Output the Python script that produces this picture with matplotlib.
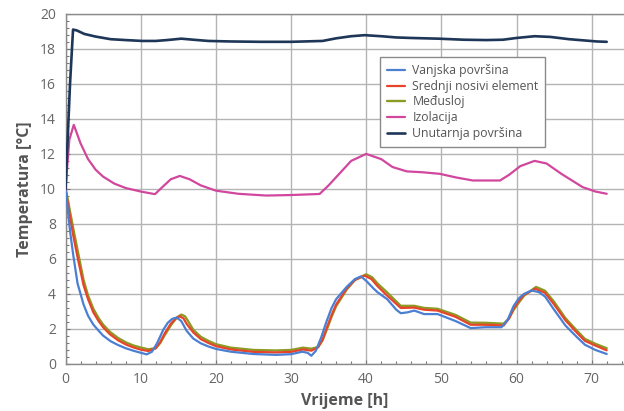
import matplotlib
matplotlib.use("Agg")
import matplotlib.pyplot as plt
from matplotlib.ticker import MultipleLocator

# ---------------- data ----------------
t_blue = [0, 0.3, 0.6, 1.0, 1.6, 2.4, 3.0, 3.7, 4.4, 5.0, 6.0, 7.0, 8.0, 9.0, 10.0, 10.8, 11.5, 12.2,
          13.0, 13.6, 14.2, 14.8, 15.4, 16.1, 17.0, 18.0, 19.0, 20.0, 22.0, 25.0, 28.0, 30.0,
          31.5, 32.2, 32.7, 33.3, 34.0, 34.7, 35.4, 36.0, 37.4, 38.5, 39.3, 40.0, 41.0, 41.5,
          42.8, 44.0, 44.6, 45.5, 46.4, 47.7, 49.5, 51.9, 53.9, 55.9, 58.0, 58.8, 59.6, 60.3,
          61.0, 62.0, 63.0, 63.8, 65.0, 66.5, 68.0, 69.1, 70.5, 72.0]
T_blue = [10.0, 8.8, 7.6, 6.3, 4.6, 3.4, 2.75, 2.25, 1.9, 1.62, 1.3, 1.08, 0.9, 0.76, 0.64, 0.55, 0.7, 1.2,
          1.95, 2.35, 2.58, 2.65, 2.45, 1.9, 1.45, 1.18, 1.0, 0.86, 0.7, 0.57, 0.52, 0.56,
          0.7, 0.64, 0.47, 0.75, 1.5, 2.4, 3.2, 3.7, 4.4, 4.85, 5.0, 4.75, 4.3, 4.1,
          3.7, 3.1, 2.9, 2.95, 3.05, 2.85, 2.85, 2.45, 2.05, 2.1, 2.1, 2.5, 3.3, 3.75,
          4.0, 4.2, 4.1, 3.85, 3.1, 2.2, 1.55, 1.1, 0.8, 0.57]

t_red = [0, 0.3, 0.6, 1.0, 1.6, 2.4, 3.0, 3.7, 4.4, 5.0, 5.9, 7.0, 8.1, 9.0, 10.0, 11.0, 12.0,
         12.6, 13.2, 14.0, 14.7, 15.2, 15.7, 16.1, 17.0, 18.0, 19.0, 20.0, 22.0, 25.0, 28.0, 30.0,
         31.6, 32.7, 33.6, 34.2, 34.7, 35.4, 36.0, 37.4, 38.5, 39.8, 40.7, 41.5, 42.8, 44.6, 46.4,
         47.7, 49.5, 51.9, 53.9, 55.9, 58.3, 59.0, 59.6, 60.3, 61.0, 62.5, 63.8, 65.0, 66.5,
         68.0, 69.1, 70.5, 72.0]
T_red = [10.0, 9.2, 8.4, 7.4, 6.1, 4.5, 3.7, 2.95, 2.45, 2.1, 1.7, 1.35, 1.1, 0.95, 0.82, 0.74, 0.9,
         1.25, 1.75, 2.3, 2.62, 2.72, 2.6, 2.3, 1.8, 1.42, 1.2, 1.02, 0.83, 0.69, 0.66, 0.69,
         0.83, 0.76, 0.95, 1.4, 2.0, 2.8, 3.4, 4.3, 4.8, 5.05, 4.85, 4.45, 3.9, 3.2, 3.22,
         3.1, 3.05, 2.69, 2.24, 2.24, 2.2, 2.6, 3.15, 3.6, 3.95, 4.3, 4.06, 3.4, 2.5,
         1.8, 1.32, 1.05, 0.78]

t_green = [0, 0.3, 0.6, 1.0, 1.6, 2.4, 3.0, 3.7, 4.4, 5.0, 5.9, 7.0, 8.1, 9.0, 10.0, 11.0, 12.0,
           12.6, 13.2, 14.0, 14.8, 15.4, 15.9, 16.3, 17.0, 18.0, 19.0, 20.0, 22.0, 25.0, 28.0, 30.0,
           31.6, 32.7, 33.6, 34.2, 34.7, 35.4, 36.0, 37.4, 38.5, 40.0, 40.8, 41.5, 42.8, 44.6, 46.4,
           47.7, 49.5, 51.9, 53.9, 55.9, 58.3, 59.0, 59.6, 60.3, 61.0, 62.6, 63.8, 65.0, 66.5,
           68.0, 69.1, 70.5, 72.0]
T_green = [10.0, 9.4, 8.7, 7.8, 6.5, 4.8, 3.9, 3.15, 2.62, 2.25, 1.84, 1.48, 1.22, 1.06, 0.94, 0.84, 0.9,
           1.2, 1.65, 2.2, 2.65, 2.82, 2.72, 2.45, 1.95, 1.55, 1.32, 1.13, 0.93, 0.8, 0.77, 0.8,
           0.93, 0.87, 0.97, 1.35, 1.9, 2.7, 3.3, 4.25, 4.8, 5.12, 4.95, 4.6, 4.08, 3.32, 3.32,
           3.2, 3.15, 2.8, 2.36, 2.35, 2.3, 2.6, 3.08, 3.5, 3.9, 4.4, 4.18, 3.55, 2.62,
           1.92, 1.43, 1.15, 0.9]

t_iso = [0, 0.5, 1.1, 2.0, 3.0, 4.0, 5.0, 6.5, 8.0, 10.0, 11.9, 13.0, 14.0, 15.2, 16.5, 18.0,
         20.0, 23.0, 26.7, 30.0, 33.8, 35.0, 36.5, 38.0, 40.0, 42.0, 43.5, 45.4, 47.5, 49.8,
         52.0, 54.2, 57.8, 59.0, 60.5, 62.4, 64.0, 66.0, 68.8, 70.5, 72.0]
T_iso = [10.0, 12.8, 13.66, 12.6, 11.7, 11.1, 10.7, 10.3, 10.05, 9.85, 9.7, 10.15, 10.55, 10.74, 10.55, 10.2,
         9.9, 9.72, 9.62, 9.65, 9.71, 10.2, 10.9, 11.6, 12.0, 11.7, 11.25, 11.0, 10.95, 10.86,
         10.65, 10.48, 10.48, 10.8, 11.3, 11.6, 11.45, 10.85, 10.1, 9.85, 9.72]

t_inner = [0, 0.6, 1.0, 1.5, 2.5, 4.0, 6.0, 8.0, 10.2, 12.0, 13.5, 15.4, 17.0, 19.0, 22.0, 26.0,
           30.0, 34.2, 36.0, 38.0, 39.8, 42.0, 44.0, 46.0, 49.6, 53.0, 56.0, 58.2, 60.0, 62.4,
           64.5, 67.0, 70.7, 72.0]
T_inner = [10.0, 16.0, 19.1, 19.05, 18.85, 18.7, 18.55, 18.5, 18.45, 18.45, 18.5, 18.58, 18.52, 18.45, 18.42, 18.4,
           18.4, 18.45, 18.6, 18.72, 18.78, 18.72, 18.65, 18.62, 18.58, 18.52, 18.5, 18.52, 18.62, 18.72,
           18.68, 18.55, 18.42, 18.4]

labels = ["Vanjska površina", "Srednji nosivi element", "Međusloj", "Izolacija", "Unutarnja površina"]
colors = ["#4b7fd2", "#e8432b", "#8c9b24", "#d1479d", "#1e3658"]

x_label = "Vrijeme [h]"
y_label = "Temperatura [°C]"

# ---------------- plot ----------------
plt.rcParams['font.family'] = ['Open Sans', 'DejaVu Sans']
fig = plt.figure(figsize=(6.24, 4.11), dpi=100)
ax = fig.add_axes([0.105, 0.1144, 0.895, 0.852])

series = [(t_blue, T_blue), (t_red, T_red), (t_green, T_green), (t_iso, T_iso), (t_inner, T_inner)]
zorders = [3.2, 3.1, 3.0, 3.3, 3.4]
widths = [1.6, 1.6, 1.7, 1.6, 1.9]
for (tt, TT), lab, col, z, w in zip(series, labels, colors, zorders, widths):
    ax.plot(tt, TT, color=col, lw=w, label=lab, solid_joinstyle='round',
            solid_capstyle='round', zorder=z)

ax.set_xlim(0, 74.3)
ax.set_ylim(0, 20)
ax.xaxis.set_major_locator(MultipleLocator(10))
ax.xaxis.set_minor_locator(MultipleLocator(2))
ax.yaxis.set_major_locator(MultipleLocator(2))
ax.yaxis.set_minor_locator(MultipleLocator(0.4))
ax.grid(True, which='major', color='#b4b4b4', lw=1.0)
ax.set_axisbelow(True)
ax.tick_params(which='both', direction='in', colors='#777777', labelcolor='#666666', labelsize=10)
ax.tick_params(which='major', length=3, width=0.8)
ax.tick_params(which='minor', length=2.5, width=0.8)
ax.tick_params(axis='x', pad=6)
ax.tick_params(axis='y', pad=7)
for s in ax.spines.values():
    s.set_color('#8a8a8a')
    s.set_linewidth(1.0)
ax.spines['right'].set_visible(False)

ax.set_xlabel(x_label, fontsize=11.5, color='#555555', fontweight='bold', labelpad=4)
ax.set_ylabel(y_label, fontsize=11.5, color='#555555', fontweight='bold', labelpad=5)

leg = ax.legend(loc='upper left', bbox_to_anchor=(0.552, 0.893), fontsize=8.8, frameon=True,
                fancybox=False, framealpha=1, edgecolor='#8a8a8a', handlelength=1.5,
                handletextpad=0.6, borderpad=0.55, labelspacing=0.22)
leg.get_frame().set_linewidth(1.0)
for txt in leg.get_texts():
    txt.set_color('#555555')

fig.savefig("out.png", dpi=100)
